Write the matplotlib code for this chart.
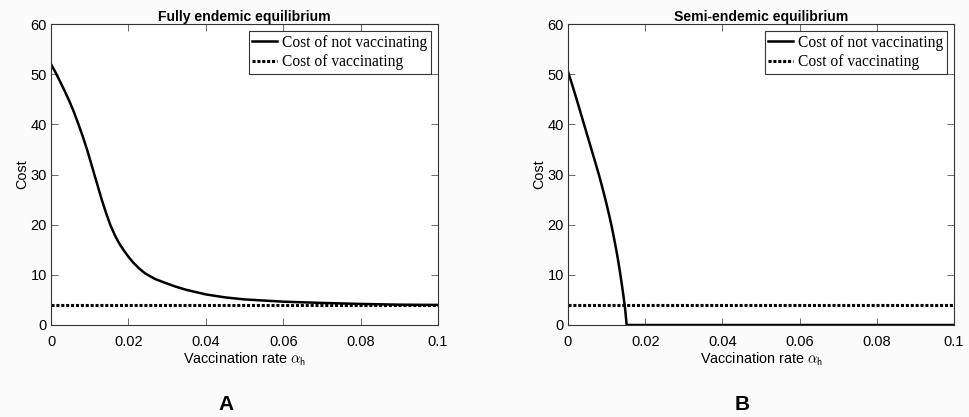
import numpy as np
import matplotlib.pyplot as plt

# data
alpha_a = [0, 0.0012, 0.0023, 0.0035, 0.0047, 0.0059, 0.0071, 0.0082, 0.0093,
           0.0103, 0.0112, 0.0122, 0.0131, 0.0142, 0.0153, 0.0165, 0.0176,
           0.0187, 0.02, 0.0213, 0.0228, 0.0243, 0.0268, 0.0295, 0.032, 0.035,
           0.04, 0.045, 0.05, 0.06, 0.07, 0.08, 0.09, 0.1]
cost_novac_a = [52.0, 50.3, 48.6, 46.7, 44.7, 42.5, 40.0, 37.6, 35.0,
                32.4, 30.0, 27.4, 25.0, 22.4, 20.0, 17.9, 16.3,
                15.0, 13.6, 12.4, 11.25, 10.3, 9.2, 8.4, 7.7, 7.0,
                6.1, 5.5, 5.1, 4.65, 4.4, 4.2, 4.05, 4.0]

alpha_b = [0, 0.001, 0.002, 0.003, 0.004, 0.005, 0.006, 0.007, 0.0081, 0.009,
           0.0098, 0.0106, 0.0113, 0.0119, 0.0125, 0.013, 0.0135, 0.014,
           0.0144, 0.0148, 0.0152, 0.02, 0.04, 0.06, 0.08, 0.1]
cost_novac_b = [50.5, 48.1, 45.6, 43.0, 40.4, 37.8, 35.2, 32.6, 29.7, 27.1,
                24.7, 22.1, 19.7, 17.4, 15.0, 12.8, 10.4, 7.8,
                5.6, 3.2, 0.0, 0.0, 0.0, 0.0, 0.0, 0.0]

cost_vac = 4.0
titles = ['Fully endemic equilibrium', 'Semi-endemic equilibrium']
letters = ['A', 'B']

plt.rcParams['font.family'] = ['Liberation Sans', 'DejaVu Sans']
plt.rcParams['mathtext.fontset'] = 'cm'

fig = plt.figure(figsize=(9.69, 4.17), dpi=100)
fig.patch.set_facecolor('#fbfbfb')
rects = [[51 / 969, 1 - 325 / 417, 387 / 969, 301 / 417],
         [568 / 969, 1 - 325 / 417, 386 / 969, 301 / 417]]
letter_x = [226 / 969, 742 / 969]

for i, (xs, ys) in enumerate([(alpha_a, cost_novac_a), (alpha_b, cost_novac_b)]):
    ax = fig.add_axes(rects[i])
    ax.plot(xs, ys, color='black', lw=1.8, label='Cost of not vaccinating')
    ax.plot([0, 0.1], [cost_vac, cost_vac], color='black', lw=2.2, ls=(0, (1, 0.6)),
            label='Cost of vaccinating')
    ax.set_xlim(0, 0.1)
    ax.set_ylim(0, 60)
    ax.set_xticks([0, 0.02, 0.04, 0.06, 0.08, 0.1])
    ax.set_xticklabels(['0', '0.02', '0.04', '0.06', '0.08', '0.1'])
    ax.set_yticks(range(0, 61, 10))
    ax.tick_params(direction='in', top=True, right=True, labelsize=10.5,
                   length=5, width=0.6, color='#555555')
    ax.tick_params(axis='x', pad=7)
    ax.tick_params(axis='y', pad=3)
    for s in ax.spines.values():
        s.set_linewidth(0.8)
        s.set_color('#333333')
    ax.set_title(titles[i], fontsize=10.1, fontweight='bold', pad=2.5)
    ax.set_xlabel(r'Vaccination rate $\alpha_{\mathsf{h}}$', fontsize=10.4, labelpad=1)
    ax.set_ylabel('Cost', fontsize=10.4, labelpad=1)
    leg = ax.legend(loc='upper right', frameon=True, fancybox=False,
                    borderaxespad=0.45, handlelength=1.6, handletextpad=0.3,
                    borderpad=0.25, labelspacing=0.2,
                    prop={'family': 'Liberation Serif', 'size': 11.2})
    leg.get_frame().set_edgecolor('black')
    leg.get_frame().set_linewidth(0.8)
    fig.text(letter_x[i], 1 - 405 / 417, letters[i], fontsize=15, fontweight='bold',
             ha='center', va='center')

fig.savefig('out.png', dpi=100, facecolor=fig.get_facecolor())
